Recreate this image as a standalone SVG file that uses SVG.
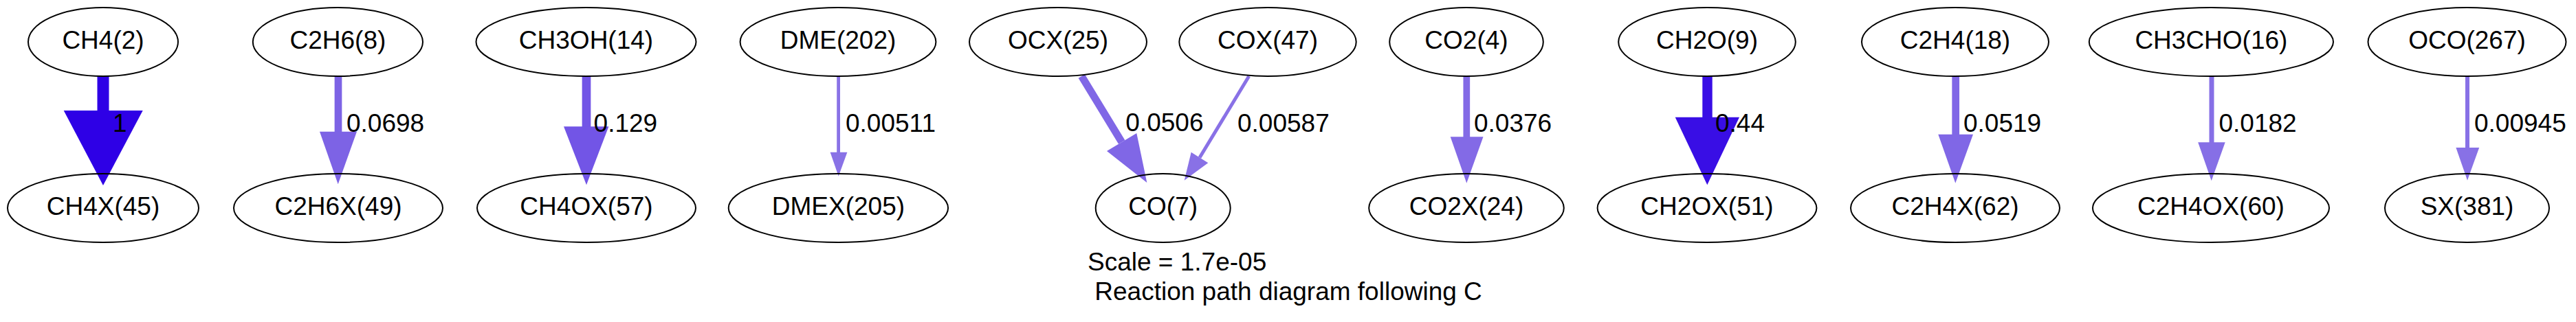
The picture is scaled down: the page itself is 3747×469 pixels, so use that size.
<svg xmlns="http://www.w3.org/2000/svg" width="3747" height="469" viewBox="0 0 3747 469">
<style>
.n ellipse{fill:none;stroke:#000;stroke-width:2}
.n text,.lbl,.cap{font-family:"Liberation Sans",Arial,sans-serif;font-size:37px;fill:#000}
.n text{text-anchor:middle}
</style>
<rect width="3747" height="469" fill="#fff"/>
<g id="connectors">
<g id="e1"><line x1="150" y1="111" x2="150" y2="162" stroke="#2e00e6" stroke-width="17"/><polygon points="92.7,161 207.7,161 150,270" fill="#2e00e6"/><text class="lbl" x="164" y="192">1</text></g>
<g id="e2"><line x1="492" y1="111" x2="492" y2="192" stroke="#7d63e5" stroke-width="10.7"/><polygon points="465,191.7 519,191.7 491.7,268.3" fill="#7d63e5"/><text class="lbl" x="504" y="192">0.0698</text></g>
<g id="e3"><line x1="853" y1="111" x2="853" y2="185" stroke="#7255e6" stroke-width="12.7"/><polygon points="820,184.3 885.4,184.3 853,269.3" fill="#7255e6"/><text class="lbl" x="863.6" y="192">0.129</text></g>
<g id="e4"><line x1="1219.6" y1="111" x2="1219.6" y2="222" stroke="#8972e6" stroke-width="4.8"/><polygon points="1207.6,221.7 1232.4,221.7 1219.7,256.7" fill="#8972e6"/><text class="lbl" x="1230" y="192">0.00511</text></g>
<g id="e5"><line x1="1573.3" y1="111" x2="1631.7" y2="207" stroke="#8067e6" stroke-width="11"/><polygon points="1610,220 1653.3,194 1668.3,266" fill="#8067e6"/><text class="lbl" x="1637.3" y="191">0.0506</text></g>
<g id="e6"><line x1="1816.7" y1="111" x2="1745" y2="229.5" stroke="#8971e6" stroke-width="5"/><polygon points="1732.7,221.7 1757.3,237.3 1722.7,262.7" fill="#8971e6"/><text class="lbl" x="1800" y="192">0.00587</text></g>
<g id="e7"><line x1="2133.3" y1="111" x2="2133.3" y2="200" stroke="#836ae6" stroke-width="9.7"/><polygon points="2109.7,199.3 2157.5,199.3 2133.3,266.7" fill="#836ae6"/><text class="lbl" x="2144" y="192">0.0376</text></g>
<g id="e8"><line x1="2483.5" y1="111" x2="2483.5" y2="171" stroke="#390ee5" stroke-width="14.4"/><polygon points="2436.7,170.7 2530,170.7 2483.3,269.3" fill="#390ee5"/><text class="lbl" x="2495" y="192">0.44</text></g>
<g id="e9"><line x1="2844.7" y1="111" x2="2844.7" y2="196" stroke="#8067e6" stroke-width="10.7"/><polygon points="2819.3,195.7 2870,195.7 2844.3,266.7" fill="#8067e6"/><text class="lbl" x="2856" y="192">0.0519</text></g>
<g id="e10"><line x1="3217" y1="111" x2="3217" y2="208" stroke="#866fe6" stroke-width="7"/><polygon points="3197.2,207.3 3236.7,207.3 3216.7,263.3" fill="#866fe6"/><text class="lbl" x="3227.5" y="192">0.0182</text></g>
<g id="e11"><line x1="3589" y1="111" x2="3589" y2="215" stroke="#8871e6" stroke-width="6"/><polygon points="3572.4,215 3606.2,215 3589,262.7" fill="#8871e6"/><text class="lbl" x="3599" y="192">0.00945</text></g>
</g>
<g id="CH4_2" class="n"><ellipse cx="150" cy="61" rx="109" ry="50"/><text x="150" y="71">CH4(2)</text></g>
<g id="C2H6_8" class="n"><ellipse cx="491.4" cy="61" rx="123.6" ry="50"/><text x="491.4" y="71">C2H6(8)</text></g>
<g id="CH3OH_14" class="n"><ellipse cx="852.5" cy="61" rx="160" ry="50"/><text x="852.5" y="71">CH3OH(14)</text></g>
<g id="DME_202" class="n"><ellipse cx="1219" cy="61" rx="142.4" ry="50"/><text x="1219" y="71">DME(202)</text></g>
<g id="OCX_25" class="n"><ellipse cx="1539" cy="61" rx="129" ry="50"/><text x="1539" y="71">OCX(25)</text></g>
<g id="COX_47" class="n"><ellipse cx="1844" cy="61" rx="128.7" ry="50"/><text x="1844" y="71">COX(47)</text></g>
<g id="CO2_4" class="n"><ellipse cx="2133" cy="61" rx="111.8" ry="50"/><text x="2133" y="71">CO2(4)</text></g>
<g id="CH2O_9" class="n"><ellipse cx="2483" cy="61" rx="128.8" ry="50"/><text x="2483" y="71">CH2O(9)</text></g>
<g id="C2H4_18" class="n"><ellipse cx="2844" cy="61" rx="136" ry="50"/><text x="2844" y="71">C2H4(18)</text></g>
<g id="CH3CHO_16" class="n"><ellipse cx="3216.4" cy="61" rx="177.6" ry="50"/><text x="3216.4" y="71">CH3CHO(16)</text></g>
<g id="OCO_267" class="n"><ellipse cx="3588.5" cy="61" rx="144" ry="50"/><text x="3588.5" y="71">OCO(267)</text></g>
<g id="CH4X_45" class="n"><ellipse cx="150" cy="303" rx="139" ry="50"/><text x="150" y="313">CH4X(45)</text></g>
<g id="C2H6X_49" class="n"><ellipse cx="492" cy="303" rx="152" ry="50"/><text x="492" y="313">C2H6X(49)</text></g>
<g id="CH4OX_57" class="n"><ellipse cx="853" cy="303" rx="159" ry="50"/><text x="853" y="313">CH4OX(57)</text></g>
<g id="DMEX_205" class="n"><ellipse cx="1219.4" cy="303" rx="159.7" ry="50"/><text x="1219.4" y="313">DMEX(205)</text></g>
<g id="CO_7" class="n"><ellipse cx="1691.7" cy="303" rx="98" ry="50"/><text x="1691.7" y="313">CO(7)</text></g>
<g id="CO2X_24" class="n"><ellipse cx="2133" cy="303" rx="141.8" ry="50"/><text x="2133" y="313">CO2X(24)</text></g>
<g id="CH2OX_51" class="n"><ellipse cx="2483" cy="303" rx="159.4" ry="50"/><text x="2483" y="313">CH2OX(51)</text></g>
<g id="C2H4X_62" class="n"><ellipse cx="2844" cy="303" rx="152" ry="50"/><text x="2844" y="313">C2H4X(62)</text></g>
<g id="C2H4OX_60" class="n"><ellipse cx="3216" cy="303" rx="172" ry="50"/><text x="3216" y="313">C2H4OX(60)</text></g>
<g id="SX_381" class="n"><ellipse cx="3588.5" cy="303" rx="119.5" ry="50"/><text x="3588.5" y="313">SX(381)</text></g>
<g id="caption">
<text class="cap" x="1582" y="394">Scale = 1.7e-05</text>
<text class="cap" x="1582" y="437" xml:space="preserve"> Reaction path diagram following C</text>
</g>
</svg>
